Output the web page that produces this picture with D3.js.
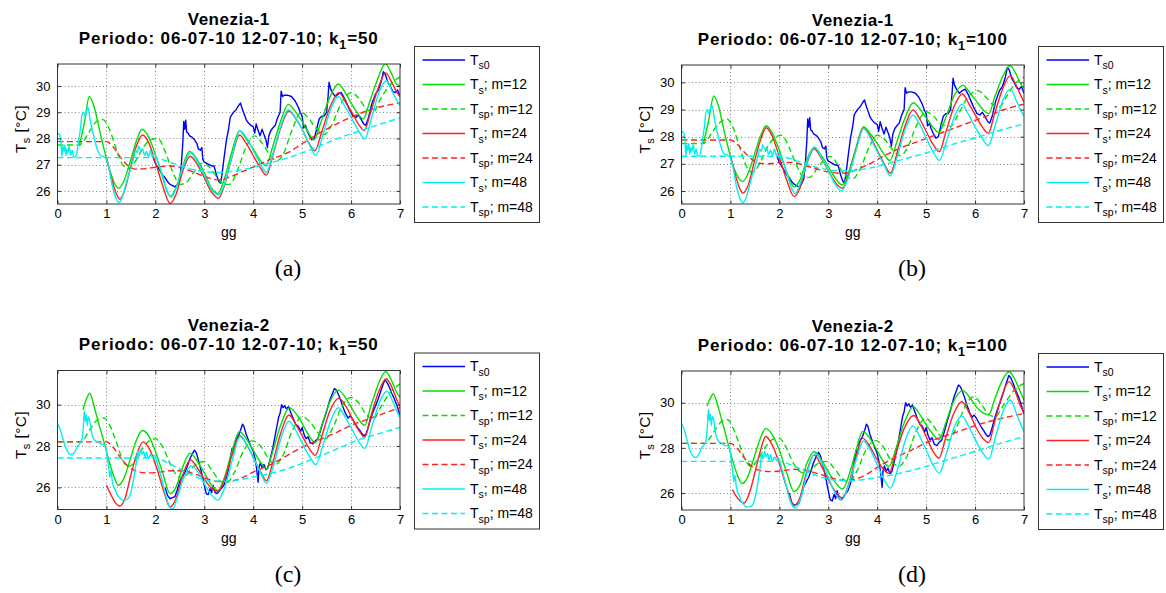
<!DOCTYPE html>
<html>
<head>
<meta charset="utf-8">
<script src="https://cdn.jsdelivr.net/npm/d3@7"></script>
<style>
  body { margin: 0; background: #fff; }
  svg { display: block; }
</style>
</head>
<body>
<svg id="fig" width="1166" height="593"></svg>
<script>
// ---------------------------------------------------------------------------
// Ts model comparison, Venezia-1 and Venezia-2, 06-07-10 .. 12-07-10
// Each series: [day, temperature °C]
// ---------------------------------------------------------------------------

const xTicks = [0, 1, 2, 3, 4, 5, 6, 7];
const yTicksFine = [26, 27, 28, 29, 30];
const yTicksCoarse = [26, 28, 30];

const legendSubs  = ["s0", "s", "sp", "s", "sp", "s", "sp"];
const legendTails = ["", "; m=12", "; m=12", "; m=24", "; m=24", "; m=48", "; m=48"];
const panelTags = ["(a)", "(b)", "(c)", "(d)"];

// ---- Venezia-1 measured surface temperature
const v1_ts0 = [[1.95,27.3],[2.0,27.05],[2.05,26.9],[2.1,26.75],[2.15,26.6],[2.2,26.5],[2.25,26.35],[2.3,26.25],[2.35,26.2],[2.4,26.15],[2.45,26.25],[2.5,26.45],[2.53,27.0],[2.56,27.8],[2.58,28.65],[2.6,28.35],[2.62,28.7],[2.64,28.25],[2.67,28.2],[2.7,28.1],[2.75,28.05],[2.8,27.95],[2.85,27.8],[2.88,27.6],[2.92,27.55],[2.95,27.65],[2.97,27.2],[3.0,27.1],[3.05,27.05],[3.1,27.0],[3.15,26.95],[3.2,26.95],[3.25,26.6],[3.3,26.35],[3.33,26.3],[3.36,26.6],[3.4,27.2],[3.45,27.9],[3.5,28.4],[3.53,28.8],[3.56,28.9],[3.6,29.0],[3.65,29.1],[3.7,29.25],[3.74,29.35],[3.78,29.1],[3.82,28.9],[3.86,28.7],[3.9,28.6],[3.95,28.5],[4.0,28.45],[4.03,28.2],[4.06,28.55],[4.1,28.3],[4.14,28.1],[4.18,28.35],[4.22,28.15],[4.26,27.95],[4.29,27.65],[4.32,28.1],[4.36,28.3],[4.4,28.4],[4.45,28.5],[4.5,28.8],[4.55,29.0],[4.57,29.8],[4.6,29.6],[4.64,29.65],[4.7,29.65],[4.78,29.6],[4.85,29.45],[4.92,29.2],[4.96,29.0],[5.0,28.85],[5.03,28.4],[5.07,28.5],[5.1,28.3],[5.15,28.1],[5.2,27.95],[5.25,28.0],[5.3,28.4],[5.35,28.75],[5.4,28.85],[5.45,28.85],[5.5,29.0],[5.53,29.6],[5.55,30.15],[5.58,29.9],[5.62,29.75],[5.68,29.6],[5.74,29.7],[5.8,29.75],[5.86,29.55],[5.92,29.3],[5.98,29.05],[6.04,28.85],[6.1,28.8],[6.15,28.9],[6.2,28.75],[6.26,28.55],[6.3,28.5],[6.35,28.75],[6.42,29.3],[6.5,29.7],[6.56,29.85],[6.62,30.2],[6.66,30.55],[6.7,30.45],[6.75,30.15],[6.8,30.0],[6.85,29.8],[6.9,29.75],[6.95,29.85],[7.0,29.6]];

// first 48 h of the m=48 run (Venezia-1)
const v1_m48_head = [[0.0,28.2],[0.04,28.15],[0.07,27.9],[0.09,27.3],[0.11,27.7],[0.13,27.5],[0.15,27.75],[0.17,27.35],[0.19,27.6],[0.21,27.45],[0.24,27.7],[0.27,27.35],[0.3,27.55],[0.33,27.3],[0.37,27.3],[0.4,27.5],[0.43,27.9],[0.47,28.4],[0.5,28.9],[0.53,29.0],[0.56,28.85],[0.6,29.1],[0.63,29.15],[0.66,28.8],[0.7,28.4],[0.74,28.1],[0.78,27.8],[0.83,27.5],[0.88,27.35],[0.95,27.3],[1.0,27.2],[1.05,26.9],[1.12,26.2],[1.2,25.7],[1.25,25.56],[1.32,25.75],[1.42,26.4],[1.52,27.0],[1.57,27.35],[1.6,27.55],[1.63,27.45],[1.66,27.7],[1.7,27.55],[1.74,27.6],[1.78,27.35],[1.82,27.5],[1.86,27.3],[1.9,27.55],[1.94,27.3],[1.98,27.45],[2.02,27.25]];

// ---- Venezia-1, k1 = 50
const tsA_m12 = [[0.45,27.75],[0.55,28.6],[0.65,29.6],[0.75,29.2],[0.85,28.4],[0.95,27.6],[1.05,26.9],[1.15,26.35],[1.25,26.1],[1.35,26.35],[1.5,27.2],[1.62,27.95],[1.73,28.35],[1.85,28.1],[2.0,27.4],[2.15,26.5],[2.3,25.8],[2.42,26.1],[2.55,26.9],[2.7,27.5],[2.85,27.2],[3.0,26.7],[3.15,26.1],[3.28,25.9],[3.4,26.4],[3.55,27.4],[3.72,28.3],[3.85,28.0],[4.0,27.6],[4.15,27.15],[4.26,26.95],[4.4,27.7],[4.55,28.6],[4.72,29.3],[4.85,29.05],[5.0,28.65],[5.12,28.25],[5.24,27.95],[5.38,28.6],[5.55,29.5],[5.74,30.08],[5.88,29.75],[6.0,29.35],[6.12,29.0],[6.25,28.75],[6.38,29.4],[6.55,30.3],[6.7,30.85],[6.82,30.5],[6.92,30.1],[7.0,30.0]];
const tspA_m12 = [[0,27.75],[0.45,27.75],[0.55,27.95],[0.68,28.35],[0.8,28.65],[0.93,28.72],[1.05,28.4],[1.2,27.6],[1.33,27.0],[1.45,26.85],[1.58,27.1],[1.75,27.65],[1.9,27.95],[2.05,28.0],[2.2,27.5],[2.35,26.75],[2.5,26.25],[2.62,26.3],[2.78,26.7],[2.95,27.05],[3.08,26.95],[3.25,26.55],[3.4,26.25],[3.52,26.25],[3.68,26.8],[3.85,27.65],[4.03,28.1],[4.17,27.85],[4.33,27.4],[4.48,27.15],[4.6,27.35],[4.78,28.25],[4.98,29.0],[5.12,28.8],[5.28,28.4],[5.45,28.15],[5.6,28.5],[5.8,29.35],[6.0,29.75],[6.15,29.55],[6.3,29.15],[6.45,29.0],[6.6,29.5],[6.8,30.05],[7.0,30.35]];
const tsA_m24 = [[1.0,27.3],[1.1,26.5],[1.2,25.9],[1.27,25.68],[1.36,25.95],[1.5,26.95],[1.62,27.75],[1.74,28.13],[1.86,27.85],[2.0,27.1],[2.15,26.2],[2.3,25.52],[2.42,25.85],[2.56,26.75],[2.71,27.32],[2.86,27.0],[3.0,26.5],[3.15,25.95],[3.29,25.72],[3.41,26.2],[3.56,27.25],[3.72,28.13],[3.86,27.8],[4.0,27.35],[4.14,26.9],[4.27,26.6],[4.4,27.35],[4.56,28.4],[4.73,29.05],[4.87,28.75],[5.0,28.35],[5.13,27.85],[5.26,27.53],[5.4,28.25],[5.57,29.2],[5.75,29.75],[5.9,29.35],[6.03,28.95],[6.15,28.55],[6.27,28.3],[6.4,29.0],[6.56,29.95],[6.71,30.5],[6.84,30.1],[6.94,29.75],[7.0,29.6]];
const tspA_m24 = [[0,27.88],[1.0,27.88],[1.15,27.65],[1.3,27.25],[1.45,26.95],[1.6,26.83],[1.8,26.85],[2.0,26.9],[2.3,26.95],[2.55,26.88],[2.8,26.7],[3.05,26.52],[3.3,26.42],[3.55,26.55],[3.8,26.75],[4.05,26.95],[4.35,27.2],[4.7,27.45],[5.0,27.8],[5.35,28.2],[5.7,28.55],[6.05,28.85],[6.4,29.1],[6.7,29.25],[7.0,29.35]];
const tsA_m48 = v1_m48_head.concat([[2.08,27.0],[2.16,26.5],[2.25,25.95],[2.33,25.75],[2.44,26.2],[2.58,27.0],[2.72,27.45],[2.86,27.1],[3.0,26.6],[3.15,26.05],[3.3,25.85],[3.42,26.3],[3.57,27.35],[3.73,28.3],[3.87,28.0],[4.0,27.55],[4.14,27.05],[4.27,26.7],[4.4,27.4],[4.56,28.45],[4.72,29.1],[4.86,28.8],[5.0,28.35],[5.14,27.8],[5.28,27.35],[5.42,28.1],[5.58,29.1],[5.74,29.6],[5.88,29.2],[6.02,28.75],[6.15,28.3],[6.28,27.98],[6.42,28.8],[6.58,29.8],[6.72,30.2],[6.85,29.75],[6.95,29.4],[7.0,29.25]]);
const tspA_m48 = [[0,27.27],[2.0,27.27],[2.2,27.15],[2.45,27.0],[2.7,26.85],[2.95,26.75],[3.2,26.7],[3.45,26.72],[3.75,26.8],[4.0,26.9],[4.3,27.05],[4.6,27.2],[5.0,27.45],[5.4,27.75],[5.8,28.05],[6.2,28.3],[6.6,28.55],[7.0,28.78]];

// ---- Venezia-1, k1 = 100
const tsB_m12 = [[0.45,27.75],[0.55,28.55],[0.66,29.5],[0.76,29.1],[0.86,28.3],[0.96,27.55],[1.06,26.9],[1.16,26.5],[1.25,26.35],[1.35,26.6],[1.5,27.4],[1.62,28.05],[1.73,28.4],[1.85,28.15],[2.0,27.5],[2.15,26.7],[2.3,26.15],[2.42,26.4],[2.56,27.15],[2.71,27.6],[2.86,27.3],[3.0,26.9],[3.15,26.45],[3.29,26.22],[3.41,26.65],[3.56,27.55],[3.72,28.37],[3.86,28.1],[4.0,27.75],[4.14,27.35],[4.26,27.12],[4.4,27.8],[4.57,28.7],[4.74,29.25],[4.88,29.0],[5.02,28.65],[5.14,28.35],[5.26,28.15],[5.4,28.7],[5.57,29.5],[5.75,29.9],[5.9,29.6],[6.03,29.3],[6.16,29.0],[6.28,28.85],[6.4,29.45],[6.56,30.2],[6.71,30.62],[6.84,30.3],[6.93,29.95],[7.0,29.8]];
const tspB_m12 = [[0,27.75],[0.45,27.75],[0.55,27.95],[0.68,28.3],[0.8,28.55],[0.93,28.65],[1.05,28.35],[1.2,27.55],[1.33,26.9],[1.45,26.68],[1.58,26.95],[1.75,27.6],[1.9,27.95],[2.05,28.05],[2.2,27.6],[2.35,26.95],[2.5,26.5],[2.62,26.5],[2.78,26.85],[2.95,27.2],[3.05,27.27],[3.2,26.95],[3.35,26.55],[3.5,26.45],[3.65,26.8],[3.83,27.6],[4.0,28.05],[4.15,27.9],[4.32,27.5],[4.48,27.3],[4.62,27.6],[4.8,28.4],[5.0,28.92],[5.15,28.75],[5.32,28.45],[5.5,28.38],[5.65,28.8],[5.85,29.45],[6.05,29.7],[6.2,29.5],[6.35,29.2],[6.5,29.1],[6.65,29.5],[6.82,29.95],[7.0,30.2]];
const tsB_m24 = [[1.0,27.3],[1.1,26.6],[1.2,26.05],[1.26,25.92],[1.36,26.2],[1.5,27.15],[1.62,27.9],[1.73,28.33],[1.86,28.0],[2.0,27.25],[2.15,26.4],[2.3,25.8],[2.42,26.1],[2.56,27.0],[2.71,27.55],[2.86,27.2],[3.0,26.75],[3.15,26.3],[3.29,26.1],[3.41,26.55],[3.56,27.5],[3.72,28.32],[3.86,28.0],[4.0,27.5],[4.14,27.0],[4.27,26.65],[4.4,27.35],[4.56,28.35],[4.73,28.98],[4.87,28.65],[5.0,28.2],[5.13,27.75],[5.27,27.45],[5.4,28.15],[5.57,29.1],[5.74,29.57],[5.89,29.15],[6.02,28.75],[6.15,28.35],[6.27,28.13],[6.4,28.85],[6.56,29.75],[6.72,30.25],[6.85,29.85],[6.94,29.5],[7.0,29.27]];
const tspB_m24 = [[0,27.88],[1.0,27.88],[1.15,27.7],[1.3,27.4],[1.45,27.15],[1.6,27.02],[1.8,27.0],[2.0,27.05],[2.25,27.05],[2.5,26.95],[2.75,26.82],[3.0,26.7],[3.3,26.65],[3.6,26.8],[3.9,27.05],[4.2,27.35],[4.5,27.6],[4.8,27.8],[5.1,28.0],[5.4,28.2],[5.7,28.4],[6.0,28.6],[6.3,28.8],[6.6,29.0],[7.0,29.2]];
const tsB_m48 = v1_m48_head.concat([[2.08,27.05],[2.16,26.6],[2.25,26.1],[2.32,25.9],[2.44,26.35],[2.58,27.15],[2.72,27.62],[2.86,27.25],[3.0,26.75],[3.14,26.25],[3.27,26.0],[3.4,26.45],[3.56,27.45],[3.72,28.3],[3.86,27.95],[4.0,27.45],[4.14,26.95],[4.27,26.55],[4.4,27.2],[4.56,28.2],[4.73,28.8],[4.87,28.45],[5.0,27.95],[5.14,27.45],[5.27,27.12],[5.41,27.8],[5.57,28.7],[5.73,29.2],[5.87,28.8],[6.0,28.35],[6.14,27.95],[6.27,27.67],[6.41,28.4],[6.57,29.35],[6.72,29.75],[6.85,29.3],[6.94,28.95],[7.0,28.78]]);
const tspB_m48 = [[0,27.28],[2.0,27.28],[2.2,27.2],[2.45,27.05],[2.7,26.9],[2.95,26.8],[3.2,26.74],[3.5,26.75],[3.8,26.83],[4.1,26.95],[4.4,27.1],[4.7,27.25],[5.0,27.4],[5.3,27.58],[5.6,27.75],[6.0,27.95],[6.3,28.12],[6.6,28.28],[7.0,28.47]];

// ---- Venezia-2 measured surface temperature
const v2_ts0 = [[2.2,26.0],[2.25,25.6],[2.3,25.45],[2.35,25.5],[2.4,25.55],[2.45,25.9],[2.5,26.3],[2.55,26.5],[2.6,26.7],[2.65,27.0],[2.7,27.35],[2.75,27.6],[2.8,27.8],[2.84,27.65],[2.88,27.3],[2.92,26.95],[2.96,26.55],[3.0,26.1],[3.04,25.7],[3.08,25.65],[3.12,25.95],[3.15,25.75],[3.18,26.1],[3.22,25.75],[3.26,25.7],[3.3,25.8],[3.35,25.95],[3.4,26.1],[3.45,26.4],[3.5,26.9],[3.53,27.4],[3.57,27.9],[3.6,27.7],[3.63,28.2],[3.67,28.4],[3.7,28.5],[3.74,28.75],[3.78,29.05],[3.81,28.95],[3.85,28.6],[3.9,28.3],[3.95,28.0],[4.0,27.75],[4.04,27.35],[4.07,26.9],[4.1,26.25],[4.12,27.0],[4.15,27.2],[4.18,26.95],[4.22,27.1],[4.26,26.85],[4.3,26.95],[4.35,27.4],[4.4,27.9],[4.44,28.4],[4.48,28.9],[4.52,29.4],[4.55,29.6],[4.58,30.0],[4.61,29.85],[4.64,29.95],[4.68,29.8],[4.72,29.9],[4.77,29.6],[4.82,29.3],[4.87,29.05],[4.92,28.95],[4.97,28.7],[5.0,28.9],[5.04,28.55],[5.08,28.35],[5.12,28.45],[5.17,28.15],[5.22,28.1],[5.27,28.25],[5.32,28.35],[5.37,28.7],[5.42,29.1],[5.47,29.45],[5.52,29.85],[5.57,30.25],[5.62,30.55],[5.66,30.78],[5.7,30.7],[5.74,30.5],[5.79,30.2],[5.84,29.85],[5.89,29.55],[5.94,29.35],[5.98,29.45],[6.03,29.3],[6.08,29.1],[6.13,28.9],[6.18,28.75],[6.22,28.6],[6.26,28.5],[6.3,28.55],[6.35,28.9],[6.4,29.3],[6.45,29.65],[6.5,29.95],[6.55,30.25],[6.6,30.6],[6.65,30.95],[6.69,31.2],[6.73,31.1],[6.78,30.85],[6.83,30.55],[6.88,30.3],[6.93,30.0],[6.97,29.7],[7.0,29.5]];

// first 48 h of the m=48 run (Venezia-2)
const v2_m48_head = [[0.0,29.05],[0.05,28.85],[0.1,28.45],[0.15,28.05],[0.2,27.75],[0.25,27.6],[0.3,27.58],[0.35,27.7],[0.4,27.95],[0.45,28.1],[0.5,28.3],[0.53,29.0],[0.55,29.7],[0.57,29.2],[0.59,29.5],[0.61,29.0],[0.63,29.4],[0.66,29.2],[0.7,28.6],[0.74,28.35],[0.78,28.25],[0.83,28.2],[0.88,28.1],[0.93,28.1],[0.98,27.95],[1.02,27.4],[1.05,26.9],[1.07,26.5],[1.09,26.8],[1.12,26.3],[1.15,26.0],[1.18,25.9],[1.22,25.65],[1.27,25.5],[1.33,25.38],[1.4,25.4],[1.46,25.5],[1.52,25.95],[1.57,26.6],[1.61,27.2],[1.64,27.75],[1.67,27.5],[1.7,27.85],[1.73,27.6],[1.76,27.75],[1.79,27.45],[1.82,27.7],[1.86,27.4],[1.9,27.6],[1.94,27.45],[1.98,27.55],[2.02,27.3]];

// ---- Venezia-2, k1 = 50
const tsC_m12 = [[0.52,29.75],[0.58,30.2],[0.66,30.55],[0.75,29.9],[0.84,29.1],[0.95,28.2],[1.05,27.3],[1.15,26.55],[1.24,26.1],[1.34,26.35],[1.48,27.3],[1.6,28.2],[1.73,28.75],[1.86,28.5],[2.0,27.75],[2.15,26.7],[2.3,25.7],[2.42,26.0],[2.56,27.0],[2.71,27.65],[2.86,27.25],[3.0,26.7],[3.15,26.1],[3.28,25.85],[3.4,26.4],[3.55,27.6],[3.72,28.7],[3.86,28.35],[4.0,27.8],[4.14,27.25],[4.27,26.9],[4.4,27.75],[4.56,29.0],[4.74,29.85],[4.88,29.55],[5.02,29.0],[5.14,28.5],[5.27,28.15],[5.4,29.0],[5.56,30.1],[5.74,30.7],[5.88,30.35],[6.02,29.8],[6.15,29.3],[6.28,29.0],[6.4,29.9],[6.56,31.0],[6.71,31.6],[6.84,31.1],[6.93,30.6],[7.0,30.35]];
const tspC_m12 = [[0,28.2],[0.5,28.2],[0.6,28.55],[0.72,29.0],[0.84,29.3],[0.95,29.35],[1.07,29.0],[1.2,28.2],[1.32,27.4],[1.43,27.0],[1.55,27.15],[1.7,27.75],[1.85,28.2],[2.0,28.35],[2.15,27.95],[2.3,27.15],[2.45,26.55],[2.57,26.45],[2.72,26.85],[2.88,27.2],[3.0,27.25],[3.15,26.85],[3.3,26.35],[3.45,26.2],[3.6,26.65],[3.8,27.75],[3.98,28.25],[4.13,28.05],[4.3,27.45],[4.45,27.1],[4.6,27.5],[4.8,28.75],[5.0,29.4],[5.15,29.2],[5.32,28.65],[5.48,28.35],[5.63,28.9],[5.82,29.95],[6.0,30.35],[6.15,30.1],[6.3,29.55],[6.45,29.3],[6.6,29.85],[6.8,30.6],[7.0,31.0]];
const tsC_m24 = [[1.0,26.1],[1.08,25.7],[1.17,25.3],[1.27,25.1],[1.37,25.4],[1.5,26.6],[1.62,27.6],[1.75,28.2],[1.88,27.85],[2.02,27.0],[2.16,25.9],[2.3,25.05],[2.42,25.45],[2.56,26.6],[2.72,27.32],[2.87,26.9],[3.0,26.4],[3.15,25.95],[3.28,25.8],[3.41,26.35],[3.56,27.5],[3.73,28.5],[3.87,28.05],[4.01,27.4],[4.15,26.75],[4.27,26.32],[4.4,27.2],[4.56,28.6],[4.73,29.5],[4.87,29.05],[5.01,28.45],[5.14,27.9],[5.27,27.55],[5.4,28.45],[5.56,29.65],[5.75,30.3],[5.9,29.9],[6.03,29.3],[6.16,28.75],[6.28,28.42],[6.4,29.4],[6.56,30.6],[6.72,31.25],[6.85,30.75],[6.94,30.2],[7.0,29.9]];
const tspC_m24 = [[0,28.2],[1.0,28.2],[1.15,27.9],[1.3,27.4],[1.45,27.0],[1.6,26.8],[1.8,26.7],[2.05,26.72],[2.3,26.8],[2.55,26.8],[2.8,26.65],[3.05,26.42],[3.3,26.28],[3.55,26.3],[3.8,26.5],[4.05,26.8],[4.35,27.1],[4.7,27.55],[5.0,27.95],[5.35,28.3],[5.7,28.65],[6.0,29.0],[6.35,29.3],[6.7,29.6],[7.0,29.85]];
const tsC_m48 = v2_m48_head.concat([[2.06,27.0],[2.12,26.5],[2.18,25.9],[2.25,25.3],[2.31,25.0],[2.36,24.97],[2.44,25.45],[2.58,26.45],[2.74,27.05],[2.88,26.7],[3.02,26.1],[3.16,25.6],[3.28,25.38],[3.41,25.95],[3.57,27.3],[3.73,28.45],[3.87,28.05],[4.01,27.4],[4.15,26.7],[4.27,26.2],[4.41,27.0],[4.57,28.4],[4.73,29.2],[4.87,28.75],[5.01,28.1],[5.15,27.5],[5.28,27.1],[5.42,28.0],[5.58,29.2],[5.74,29.85],[5.88,29.4],[6.02,28.8],[6.15,28.25],[6.28,27.88],[6.42,28.9],[6.58,30.1],[6.73,30.65],[6.86,30.1],[6.95,29.6],[7.0,29.38]]);
const tspC_m48 = [[0,27.42],[2.0,27.42],[2.2,27.25],[2.45,26.95],[2.7,26.65],[2.95,26.4],[3.2,26.3],[3.45,26.3],[3.75,26.38],[4.05,26.52],[4.4,26.7],[4.75,26.95],[5.1,27.25],[5.45,27.6],[5.8,27.95],[6.15,28.3],[6.5,28.55],[7.0,28.9]];

// ---- Venezia-2, k1 = 100
const tsD_m12 = [[0.52,29.85],[0.58,30.15],[0.65,30.38],[0.75,29.8],[0.84,29.1],[0.95,28.2],[1.05,27.4],[1.15,26.75],[1.24,26.42],[1.34,26.65],[1.48,27.55],[1.6,28.35],[1.72,28.85],[1.85,28.6],[2.0,27.9],[2.15,26.9],[2.3,26.07],[2.42,26.35],[2.56,27.3],[2.71,27.84],[2.86,27.45],[3.0,26.95],[3.15,26.45],[3.29,26.18],[3.41,26.7],[3.55,27.75],[3.7,28.72],[3.84,28.45],[3.98,27.95],[4.11,27.45],[4.24,27.18],[4.38,27.95],[4.55,29.1],[4.74,29.82],[4.88,29.45],[5.02,28.95],[5.14,28.6],[5.26,28.35],[5.4,29.1],[5.56,30.05],[5.75,30.53],[5.9,30.2],[6.03,29.8],[6.16,29.55],[6.28,29.46],[6.4,30.15],[6.55,30.95],[6.69,31.37],[6.82,31.0],[6.92,30.5],[7.0,30.12]];
const tspD_m12 = [[0,28.2],[0.5,28.2],[0.6,28.5],[0.72,28.9],[0.84,29.2],[0.94,29.24],[1.06,28.85],[1.2,28.05],[1.32,27.4],[1.42,27.18],[1.55,27.45],[1.72,28.05],[1.87,28.38],[1.99,28.43],[2.13,28.05],[2.28,27.35],[2.42,26.95],[2.54,26.88],[2.7,27.15],[2.85,27.38],[2.98,27.4],[3.12,27.1],[3.28,26.65],[3.42,26.5],[3.58,26.95],[3.78,27.95],[3.97,28.32],[4.12,28.05],[4.28,27.45],[4.44,27.18],[4.6,27.6],[4.8,28.75],[4.99,29.31],[5.14,29.0],[5.3,28.5],[5.46,28.35],[5.62,28.9],[5.8,29.85],[5.97,30.26],[6.12,29.95],[6.27,29.5],[6.41,29.38],[6.57,29.85],[6.78,30.5],[7.0,30.85]];
const tsD_m24 = [[1.04,26.15],[1.12,25.85],[1.2,25.65],[1.28,25.56],[1.38,25.95],[1.5,26.9],[1.61,27.85],[1.72,28.5],[1.86,28.1],[2.0,27.3],[2.15,26.25],[2.3,25.44],[2.42,25.8],[2.56,26.95],[2.71,27.69],[2.86,27.2],[3.0,26.6],[3.15,26.05],[3.29,25.78],[3.41,26.35],[3.55,27.45],[3.7,28.43],[3.84,28.1],[3.98,27.55],[4.11,27.1],[4.24,26.88],[4.38,27.75],[4.55,28.85],[4.75,29.43],[4.89,29.0],[5.02,28.4],[5.14,27.85],[5.26,27.54],[5.4,28.45],[5.56,29.5],[5.73,30.04],[5.88,29.55],[6.02,28.9],[6.15,28.45],[6.28,28.24],[6.4,29.15],[6.55,30.3],[6.69,30.93],[6.82,30.5],[6.92,29.9],[7.0,29.53]];
const tspD_m24 = [[0,28.2],[1.0,28.2],[1.15,27.95],[1.3,27.5],[1.45,27.15],[1.6,27.0],[1.8,26.95],[2.05,26.98],[2.3,27.05],[2.55,27.0],[2.8,26.85],[3.05,26.68],[3.3,26.57],[3.55,26.62],[3.8,26.85],[4.05,27.2],[4.35,27.55],[4.7,27.9],[5.0,28.22],[5.35,28.5],[5.7,28.75],[6.0,28.98],[6.35,29.2],[6.7,29.38],[7.0,29.52]];
const tsD_m48 = v2_m48_head.concat([[2.06,27.0],[2.12,26.5],[2.18,25.95],[2.25,25.5],[2.33,25.34],[2.44,25.8],[2.58,27.0],[2.73,27.75],[2.88,27.3],[3.02,26.6],[3.15,25.95],[3.28,25.7],[3.41,26.3],[3.56,27.4],[3.72,28.3],[3.86,27.9],[4.0,27.25],[4.14,26.6],[4.27,26.22],[4.41,27.0],[4.57,28.3],[4.73,28.97],[4.87,28.5],[5.01,27.85],[5.15,27.2],[5.27,26.88],[5.42,27.8],[5.58,28.95],[5.73,29.41],[5.88,28.9],[6.02,28.3],[6.15,27.8],[6.28,27.5],[6.42,28.5],[6.58,29.65],[6.72,30.12],[6.85,29.5],[6.95,28.95],[7.0,28.72]]);
const tspD_m48 = [[0,27.4],[2.0,27.4],[2.2,27.28],[2.45,27.05],[2.7,26.82],[2.95,26.65],[3.2,26.56],[3.5,26.55],[3.8,26.62],[4.1,26.72],[4.4,26.85],[4.7,27.0],[5.0,27.18],[5.3,27.38],[5.6,27.58],[6.0,27.84],[6.3,28.05],[6.6,28.25],[7.0,28.5]];

// ---------------------------------------------------------------------------
// Styling and layout
// ---------------------------------------------------------------------------
const FONT = "'Liberation Sans', Arial, Helvetica, sans-serif";
const DASH = "6,3.5";
const seriesStyle = [
  { color: "#0000ff", dash: null },
  { color: "#00e000", dash: null },
  { color: "#00e000", dash: DASH },
  { color: "#ff2020", dash: null },
  { color: "#ff2020", dash: DASH },
  { color: "#00f0f0", dash: null },
  { color: "#00f0f0", dash: DASH }
];

const panels = [
  { station: "Venezia-1", k1: "50",  left: 57.5,  right: 400,  top: 64,    bottom: 204,
    yDomain: [25.5, 30.84], yTicks: yTicksFine,
    series: [v1_ts0, tsA_m12, tspA_m12, tsA_m24, tspA_m24, tsA_m48, tspA_m48],
    legendX: 414.5, legendY: 46.5, tagX: 288, tagY: 276 },
  { station: "Venezia-1", k1: "100", left: 681.5, right: 1024, top: 65,    bottom: 204,
    yDomain: [25.52, 30.64], yTicks: yTicksFine,
    series: [v1_ts0, tsB_m12, tspB_m12, tsB_m24, tspB_m24, tsB_m48, tspB_m48],
    legendX: 1038.5, legendY: 46.5, tagX: 912, tagY: 276 },
  { station: "Venezia-2", k1: "50",  left: 57.5,  right: 400,  top: 370.5, bottom: 509.5,
    yDomain: [24.93, 31.65], yTicks: yTicksCoarse,
    series: [v2_ts0, tsC_m12, tspC_m12, tsC_m24, tspC_m24, tsC_m48, tspC_m48],
    legendX: 414.5, legendY: 353, tagX: 288, tagY: 582 },
  { station: "Venezia-2", k1: "100", left: 681.5, right: 1024, top: 371,   bottom: 510,
    yDomain: [25.25, 31.4], yTicks: yTicksCoarse,
    series: [v2_ts0, tsD_m12, tspD_m12, tsD_m24, tspD_m24, tsD_m48, tspD_m48],
    legendX: 1038.5, legendY: 353.5, tagX: 912, tagY: 582 }
];

const svg = d3.select("#fig");
svg.append("rect").attr("width", 1166).attr("height", 593).attr("fill", "#fff");

panels.forEach((p, pi) => {
  const g = svg.append("g");
  const x = d3.scaleLinear().domain([0, 7]).range([p.left, p.right]);
  const y = d3.scaleLinear().domain(p.yDomain).range([p.bottom, p.top]);
  const w = p.right - p.left, h = p.bottom - p.top;

  g.append("rect").attr("x", p.left).attr("y", p.top).attr("width", w).attr("height", h)
    .attr("fill", "#fff");

  // dotted grid
  const grid = g.append("g").attr("stroke", "#7a7a7a").attr("stroke-width", 0.9)
    .attr("stroke-dasharray", "1,2.5");
  grid.selectAll("line.gx").data(xTicks.filter(t => t > 0 && t < 7)).join("line")
    .attr("x1", d => Math.round(x(d)) + 0.5).attr("x2", d => Math.round(x(d)) + 0.5)
    .attr("y1", p.top).attr("y2", p.bottom);
  grid.selectAll("line.gy").data(p.yTicks).join("line")
    .attr("y1", d => Math.round(y(d)) + 0.5).attr("y2", d => Math.round(y(d)) + 0.5)
    .attr("x1", p.left).attr("x2", p.right);

  // series
  const clipId = "clip" + pi;
  svg.append("clipPath").attr("id", clipId).append("rect")
    .attr("x", p.left).attr("y", p.top).attr("width", w).attr("height", h);

  const plot = g.append("g").attr("clip-path", `url(#${clipId})`);
  p.series.forEach((data, si) => {
    const line = d3.line()
      .x(d => x(d[0])).y(d => y(d[1]))
      .curve(si === 0 ? d3.curveLinear : d3.curveMonotoneX);
    plot.append("path").datum(data)
      .attr("fill", "none")
      .attr("stroke", seriesStyle[si].color)
      .attr("stroke-width", 1.4)
      .attr("stroke-linejoin", "round")
      .attr("stroke-dasharray", seriesStyle[si].dash)
      .attr("d", line);
  });

  // axes with inward ticks on all four sides
  const tickLen = 3.5;
  const styleAxis = sel => {
    sel.select(".domain").remove();
    sel.selectAll(".tick line").attr("stroke", "#333");
    sel.selectAll(".tick text").attr("fill", "#000").attr("font-family", FONT).attr("font-size", 13);
  };
  g.append("g").attr("transform", `translate(0,${p.bottom})`)
    .call(d3.axisBottom(x).tickValues(xTicks).tickSize(-tickLen).tickPadding(5).tickFormat(d3.format("d")))
    .call(styleAxis);
  g.append("g").attr("transform", `translate(0,${p.top})`)
    .call(d3.axisTop(x).tickValues(xTicks).tickSize(-tickLen).tickFormat(""))
    .call(styleAxis);
  g.append("g").attr("transform", `translate(${p.left},0)`)
    .call(d3.axisLeft(y).tickValues(p.yTicks).tickSize(-tickLen).tickPadding(7).tickFormat(d3.format("d")))
    .call(styleAxis);
  g.append("g").attr("transform", `translate(${p.right},0)`)
    .call(d3.axisRight(y).tickValues(p.yTicks).tickSize(-tickLen).tickFormat(""))
    .call(styleAxis);
  g.selectAll("text").attr("stroke", "none");

  g.append("rect").attr("x", p.left).attr("y", p.top).attr("width", w).attr("height", h)
    .attr("fill", "none").attr("stroke", "#333").attr("stroke-width", 1);

  // two-line title
  const cx = (p.left + p.right) / 2;
  g.append("text").attr("x", cx).attr("y", p.top - 39.5).attr("text-anchor", "middle")
    .attr("font-family", FONT).attr("font-weight", "bold").attr("font-size", 17)
    .attr("letter-spacing", 0.5)
    .text(p.station);
  const t2 = g.append("text").attr("x", cx).attr("y", p.top - 20.5).attr("text-anchor", "middle")
    .attr("font-family", FONT).attr("font-weight", "bold").attr("font-size", 17)
    .attr("letter-spacing", 0.9);
  t2.append("tspan").text("Periodo: 06-07-10 12-07-10; k");
  t2.append("tspan").attr("dy", 5).attr("font-size", 12.5).text("1");
  t2.append("tspan").attr("dy", -5).text("=" + p.k1);

  // axis labels
  const yl = g.append("text")
    .attr("transform", `translate(${p.left - 32},${(p.top + p.bottom) / 2 - 5}) rotate(-90)`)
    .attr("text-anchor", "middle").attr("font-family", FONT).attr("font-size", 15.5)
    .attr("letter-spacing", 0.4);
  yl.append("tspan").text("T");
  yl.append("tspan").attr("dy", 4).attr("font-size", 11).text("s");
  yl.append("tspan").attr("dy", -4).text(" [°C]");

  g.append("text").attr("x", cx).attr("y", p.bottom + 33).attr("text-anchor", "middle")
    .attr("font-family", FONT).attr("font-size", 14).text("gg");

  // legend
  const lg = g.append("g");
  lg.append("rect").attr("x", p.legendX).attr("y", p.legendY).attr("width", 125).attr("height", 176)
    .attr("fill", "#fff").attr("stroke", "#333").attr("stroke-width", 1);
  seriesStyle.forEach((s, i) => {
    const ly = p.legendY + 13.5 + i * 24.5;
    lg.append("line").attr("x1", p.legendX + 8).attr("x2", p.legendX + 50.5)
      .attr("y1", ly).attr("y2", ly)
      .attr("stroke", s.color).attr("stroke-width", 1.4).attr("stroke-dasharray", s.dash);
    const tx = lg.append("text").attr("x", p.legendX + 55.5).attr("y", ly + 4.5)
      .attr("font-family", FONT).attr("font-size", 14);
    tx.append("tspan").text("T");
    tx.append("tspan").attr("dy", 4.5).attr("font-size", 10.5).text(legendSubs[i]);
    if (legendTails[i]) tx.append("tspan").attr("dy", -4.5).text(legendTails[i]);
  });

  // sub-figure tag
  svg.append("text").attr("x", p.tagX).attr("y", p.tagY).attr("text-anchor", "middle")
    .attr("font-family", "'Liberation Serif', 'DejaVu Serif', serif").attr("font-size", 24)
    .text(panelTags[pi]);
});
</script>
</body>
</html>
